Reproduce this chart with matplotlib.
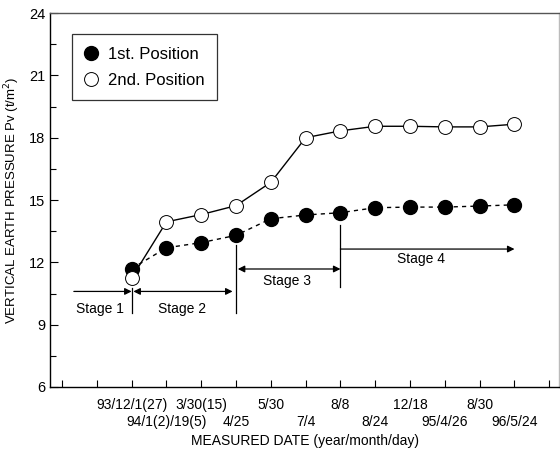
#!/usr/bin/env python
import matplotlib
matplotlib.use("Agg")
import matplotlib.pyplot as plt

###   Data

dates_upper = ["93/12/1(27)", "3/30(15)", "5/30", "8/8", "12/18", "8/30"]
dates_lower = ["94/1(2)/19(5)", "4/25", "7/4", "8/24", "95/4/26", "96/5/24"]
first_pos = [11.7, 12.7, 12.95, 13.3, 14.1, 14.28, 14.39, 14.63, 14.66, 14.66, 14.71, 14.77]
second_pos = [11.25, 13.95, 14.3, 14.73, 15.85, 18.0, 18.33, 18.55, 18.55, 18.52, 18.52, 18.65]
stage_names = ["Stage 1", "Stage 2", "Stage 3", "Stage 4"]

###   Plot

plt.rcParams["font.family"] = ["Liberation Sans", "DejaVu Sans"]

fig = plt.figure(figsize=(5.6, 4.5), dpi=100)
ax = fig.add_axes([0.0893, 0.14, 0.909, 0.831])

# measurement dates sit on ticks 2..13, alternating upper/lower label rows
xs = list(range(2, 2 + len(first_pos)))

ax.plot(xs, first_pos, color="black", lw=1, ls=(0, (3, 3)), marker="o",
        ms=10, mfc="black", mec="black", label="1st. Position", zorder=3)
ax.plot(xs, second_pos, color="black", lw=1, ls="-", marker="o",
        ms=10, mfc="white", mec="black", mew=0.7, label="2nd. Position", zorder=3)

ax.set_xlim(-0.345, 14.28)
ax.set_ylim(6, 24)
ax.set_yticks([6, 9, 12, 15, 18, 21, 24])
ax.set_yticks([7.5, 10.5, 13.5, 16.5, 19.5, 22.5], minor=True)
ax.set_xticks(range(0, 15))
ax.set_xticklabels([])
ax.tick_params(axis="both", direction="in", length=6, width=0.8, labelsize=10.5)
ax.tick_params(axis="y", which="minor", direction="in", length=4, width=0.8)
ax.tick_params(axis="x", length=5)
for s in ax.spines.values():
    s.set_linewidth(1)
ax.spines["top"].set_color("#555555")
ax.spines["right"].set_color("#bbbbbb")

# two rows of date labels
for i, lab in enumerate(dates_upper):
    ax.text(2 + 2 * i, -0.03, lab, transform=ax.get_xaxis_transform(),
            ha="center", va="top", fontsize=10)
for i, lab in enumerate(dates_lower):
    ax.text(3 + 2 * i, -0.075, lab, transform=ax.get_xaxis_transform(),
            ha="center", va="top", fontsize=10)

ax.text(0.5, -0.125, "MEASURED DATE (year/month/day)", transform=ax.transAxes,
        ha="center", va="top", fontsize=10)
ax.set_ylabel("VERTICAL EARTH PRESSURE Pv (t/m$^2$)", fontsize=9.5)
ax.yaxis.set_label_coords(-0.055, 0.5)

# stage boundaries and arrows
ax.plot([2, 2], [9.56, 10.76], color="black", lw=0.9)
ax.plot([5, 5], [9.56, 12.83], color="black", lw=0.9)
ax.plot([8, 8], [10.81, 13.8], color="black", lw=0.9)

arr = dict(arrowstyle="-|>", color="black", lw=0.9, mutation_scale=10,
           shrinkA=0, shrinkB=0)
arr2 = dict(arrowstyle="<|-|>", color="black", lw=0.9, mutation_scale=10,
            shrinkA=0, shrinkB=0)
ax.annotate("", xy=(2, 10.6), xytext=(0.34, 10.6), arrowprops=arr)
ax.annotate("", xy=(4.9, 10.6), xytext=(2.05, 10.6), arrowprops=arr2)
ax.annotate("", xy=(8, 11.68), xytext=(5.05, 11.68), arrowprops=arr2)
ax.annotate("", xy=(13, 12.64), xytext=(8, 12.64), arrowprops=arr)

ax.text(1.09, 9.75, stage_names[0], ha="center", va="center", fontsize=10)
ax.text(3.45, 9.75, stage_names[1], ha="center", va="center", fontsize=10)
ax.text(6.47, 11.1, stage_names[2], ha="center", va="center", fontsize=10)
ax.text(10.3, 12.15, stage_names[3], ha="center", va="center", fontsize=10)

leg = ax.legend(loc="upper left", bbox_to_anchor=(0.043, 0.943), fontsize=12,
                frameon=True, fancybox=False, edgecolor="black",
                handlelength=0.8, handletextpad=0.6, borderpad=0.75,
                labelspacing=0.65, borderaxespad=0)
leg.get_frame().set_linewidth(0.9)
for h in leg.get_lines():
    h.set_linestyle("none")

fig.savefig("out.png", dpi=100)
